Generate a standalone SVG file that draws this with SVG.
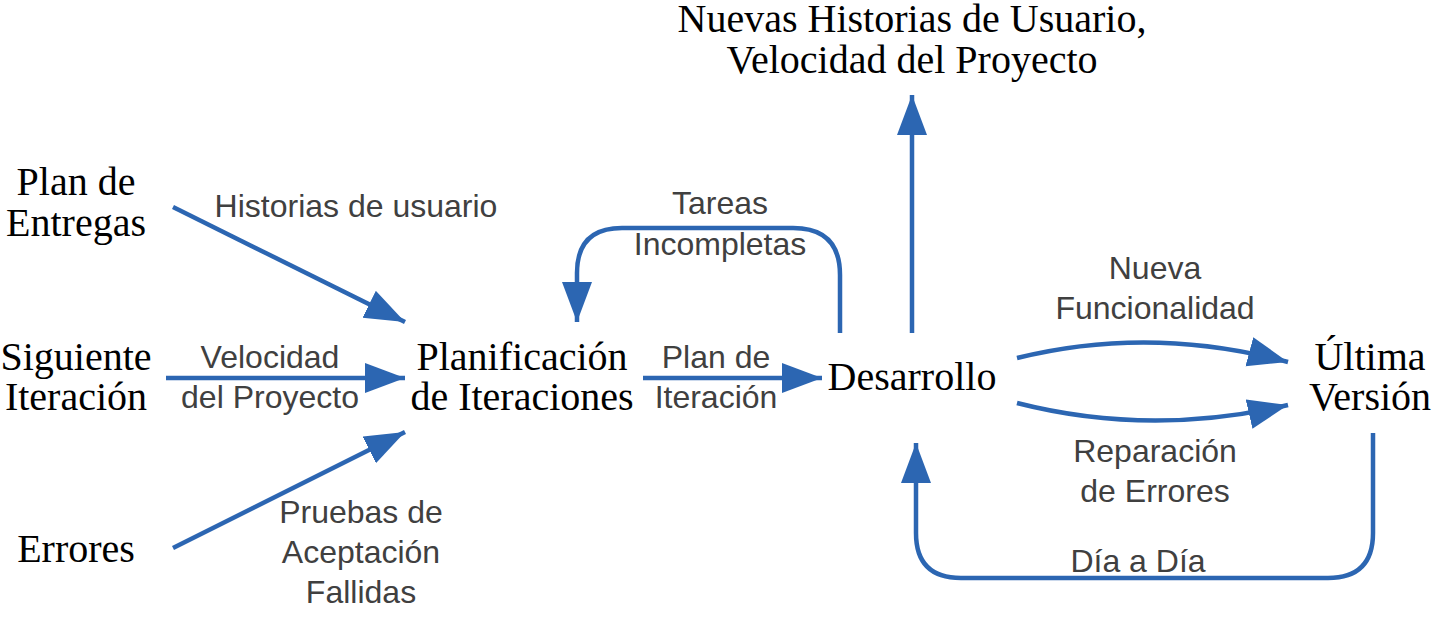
<svg xmlns="http://www.w3.org/2000/svg" width="1432" height="620" viewBox="0 0 1432 620">
<style>
.n{font-family:"Liberation Serif","Times New Roman",serif;font-size:40px;fill:#000;text-anchor:middle}
.l{font-family:"Liberation Sans",Arial,sans-serif;font-size:32px;fill:#404040;text-anchor:middle}
.c{fill:none;stroke:#2C66B2;stroke-width:4.5}
</style>
<defs>
<marker id="ah" markerUnits="userSpaceOnUse" markerWidth="44" markerHeight="34" refX="40" refY="15" orient="auto" viewBox="0 0 44 34">
<path d="M0,0 L40,15 L0,30 Z" fill="#2C66B2"/>
</marker>
</defs>
<rect width="1432" height="620" fill="#fff"/>
<g id="connectors">
<path class="c" d="M173,207 L405,322" marker-end="url(#ah)"/>
<path class="c" d="M166,378 L405,378" marker-end="url(#ah)"/>
<path class="c" d="M173,548 L405,432" marker-end="url(#ah)"/>
<path class="c" d="M643,378 L822,378" marker-end="url(#ah)"/>
<path class="c" d="M840,333 V275 Q840,228 793,228 H622 Q577,228 577,273 V322" marker-end="url(#ah)"/>
<path class="c" d="M912,333 V95" marker-end="url(#ah)"/>
<path class="c" d="M1017,358 Q1150,325 1288,362" marker-end="url(#ah)"/>
<path class="c" d="M1017,403 Q1150,437 1288,405" marker-end="url(#ah)"/>
<path class="c" d="M1373,433 V533 Q1373,578 1328,578 H961 Q916,578 916,533 V443" marker-end="url(#ah)"/>
</g>
<g id="labels">
<text class="l" x="356" y="217">Historias de usuario</text>
<text class="l" x="270" y="368">Velocidad</text>
<text class="l" x="270" y="408">del Proyecto</text>
<text class="l" x="361" y="523">Pruebas de</text>
<text class="l" x="361" y="563">Aceptación</text>
<text class="l" x="361" y="603">Fallidas</text>
<text class="l" x="720" y="214">Tareas</text>
<text class="l" x="720" y="255">Incompletas</text>
<text class="l" x="716" y="368">Plan de</text>
<text class="l" x="716" y="408">Iteración</text>
<text class="l" x="1155" y="279">Nueva</text>
<text class="l" x="1155" y="319">Funcionalidad</text>
<text class="l" x="1155" y="462">Reparación</text>
<text class="l" x="1155" y="502">de Errores</text>
<text class="l" x="1138" y="572">Día a Día</text>
</g>
<g id="plan-entregas"><text class="n" x="76" y="195">Plan de</text><text class="n" x="76" y="236">Entregas</text></g>
<g id="siguiente-iteracion"><text class="n" x="76" y="370">Siguiente</text><text class="n" x="76" y="410">Iteración</text></g>
<g id="errores"><text class="n" x="76" y="562">Errores</text></g>
<g id="planificacion"><text class="n" x="522" y="370">Planificación</text><text class="n" x="522" y="410">de Iteraciones</text></g>
<g id="desarrollo"><text class="n" x="912" y="390">Desarrollo</text></g>
<g id="ultima-version"><text class="n" x="1370" y="370">Última</text><text class="n" x="1370" y="410">Versión</text></g>
<g id="nuevas-historias"><text class="n" x="912" y="32">Nuevas Historias de Usuario,</text><text class="n" x="912" y="73">Velocidad del Proyecto</text></g>
</svg>
